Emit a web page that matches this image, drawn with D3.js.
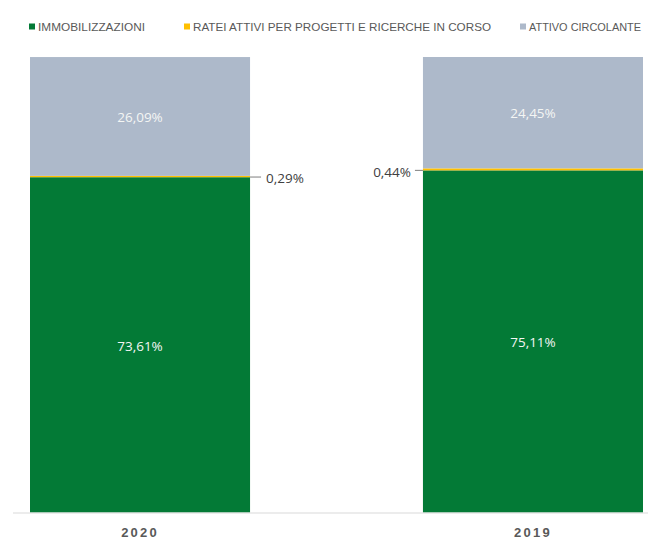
<!DOCTYPE html>
<html>
<head>
<meta charset="utf-8">
<script src="https://cdn.jsdelivr.net/npm/d3@7"></script>
<style>
  html, body { margin: 0; padding: 0; background: #ffffff; }
  svg { display: block; }
</style>
</head>
<body>
<svg id="chart" width="648" height="540"></svg>
<script>
// Composition of assets (percent of total) by year
const years = ["2020", "2019"];
const seriesNames = ["IMMOBILIZZAZIONI", "RATEI ATTIVI PER PROGETTI E RICERCHE IN CORSO", "ATTIVO CIRCOLANTE"];
const immobilizzazioni = [73.61, 75.11];
const ratei = [0.29, 0.44];
const attivoCircolante = [26.09, 24.45];
const colors = ["#037a36", "#ffc000", "#adb9ca"];

const svg = d3.select("#chart");

const rows = years.map((y, i) => ({
  year: y,
  [seriesNames[0]]: immobilizzazioni[i],
  [seriesNames[1]]: ratei[i],
  [seriesNames[2]]: attivoCircolante[i]
}));

const stack = d3.stack().keys(seriesNames);
const layers = stack(rows);

const x = d3.scaleBand().domain(years).range([30, 643]).paddingInner(0.44).paddingOuter(0);
const y = d3.scaleLinear().domain([0, 100]).range([512.5, 57]);
const color = d3.scaleOrdinal().domain(seriesNames).range(colors);

// stacked bars
const g = svg.append("g");
g.selectAll("g.layer")
  .data(layers)
  .join("g")
  .attr("class", "layer")
  .attr("fill", d => color(d.key))
  .selectAll("rect")
  .data(d => d)
  .join("rect")
  .attr("x", d => x(d.data.year))
  .attr("width", x.bandwidth())
  .attr("y", d => y(d[1]))
  .attr("height", d => y(d[0]) - y(d[1]));

const fmt = v => v.toFixed(2).replace(".", ",") + "%";

// labels inside the large segments
[0, 2].forEach(li => {
  g.selectAll(null)
    .data(layers[li])
    .join("text")
    .attr("x", d => x(d.data.year) + x.bandwidth() / 2)
    .attr("y", d => (y(d[0]) + y(d[1])) / 2 + 1)
    .attr("dy", "0.35em")
    .attr("text-anchor", "middle")
    .attr("font-family", "'Open Sans', 'Liberation Sans', sans-serif")
    .attr("font-size", 13.5)
    .attr("fill", "#f4f6f4")
    .text(d => fmt(d[1] - d[0]));
});

// thin middle segment labels with leader lines
layers[1].forEach((d, i) => {
  const ym = (y(d[0]) + y(d[1])) / 2;
  const left = i === 0;
  const bx0 = x(d.data.year), bx1 = bx0 + x.bandwidth();
  if (left) {
    svg.append("line").attr("x1", bx1).attr("x2", bx1 + 11).attr("y1", ym + 0.5).attr("y2", ym + 0.5)
      .attr("stroke", "#7f7f7f").attr("stroke-width", 1);
    svg.append("text").attr("x", bx1 + 16).attr("y", ym + 1.5).attr("dy", "0.35em")
      .attr("font-family", "'Open Sans', 'Liberation Sans', sans-serif").attr("font-size", 13.5)
      .attr("fill", "#404040").text(fmt(d[1] - d[0]));
  } else {
    svg.append("line").attr("x1", bx0 - 8).attr("x2", bx0).attr("y1", ym + 1).attr("y2", ym + 1)
      .attr("stroke", "#7f7f7f").attr("stroke-width", 1);
    svg.append("text").attr("x", bx0 - 12).attr("y", ym + 2.5).attr("dy", "0.35em")
      .attr("text-anchor", "end")
      .attr("font-family", "'Open Sans', 'Liberation Sans', sans-serif").attr("font-size", 13.5)
      .attr("fill", "#404040").text(fmt(d[1] - d[0]));
  }
});

// baseline axis
const xAxis = d3.axisBottom(x).tickSize(0).tickPadding(15);
const ax = svg.append("g").attr("transform", `translate(0, ${y(0) + 0.5})`).call(xAxis);
ax.select(".domain").attr("d", "M13,0H648").attr("stroke", "#d9d9d9").attr("stroke-width", 1);
ax.selectAll(".tick text")
  .attr("font-family", "'Liberation Sans', Arial, sans-serif")
  .attr("font-size", 13)
  .attr("font-weight", "bold")
  .attr("letter-spacing", "2.2px")
  .attr("fill", "#595959");

// legend
const legendX = [29, 184, 520];
const legendW = [107, 298, 112];
const lg = svg.append("g");
seriesNames.forEach((name, i) => {
  lg.append("rect").attr("x", legendX[i]).attr("y", 23.5).attr("width", 6).attr("height", 6)
    .attr("fill", color(name));
  lg.append("text").attr("x", legendX[i] + 9).attr("y", 26.5).attr("dy", "0.35em")
    .attr("font-family", "'Liberation Sans Narrow', 'Liberation Sans', sans-serif")
    .attr("font-size", 11.5)
    .attr("fill", "#595959")
    .attr("textLength", legendW[i])
    .attr("lengthAdjust", "spacingAndGlyphs")
    .text(name);
});
</script>
</body>
</html>
